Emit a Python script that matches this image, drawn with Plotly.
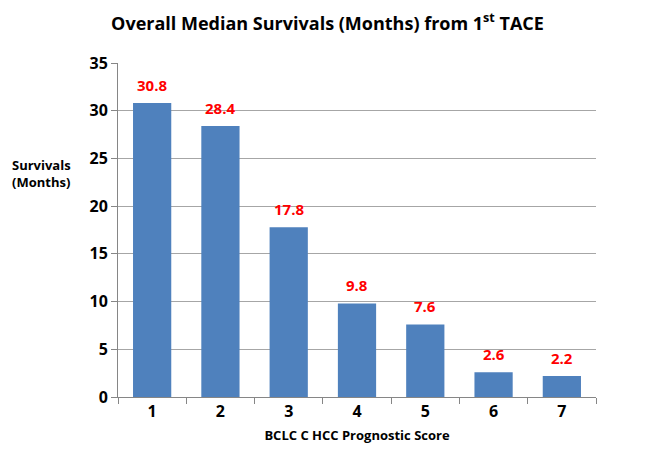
import plotly.graph_objects as go

categories = ["1", "2", "3", "4", "5", "6", "7"]
survivals = [30.8, 28.4, 17.8, 9.8, 7.6, 2.6, 2.2]
y_ticks = [0, 5, 10, 15, 20, 25, 30, 35]

FONT = "Open Sans, Liberation Sans, sans-serif"

fig = go.Figure(go.Bar(
    x=categories, y=survivals,
    marker=dict(color="#4F81BD", line=dict(width=0)),
    hoverinfo="x+y",
))

# value labels: category axis positions are the category indices
for i, v in enumerate(survivals):
    fig.add_annotation(
        x=i, y=v, text=f"{v:.1f}", showarrow=False,
        xanchor="center", yanchor="bottom", yshift=6,
        font=dict(color="#FF0000", size=15, family=FONT, weight="bold"),
    )

# page body has an 8px margin; figure is sized/offset to compensate
fig.update_layout(
    width=639, height=444,
    margin=dict(l=110, r=51, t=55, b=55, autoexpand=False),
    paper_bgcolor="white", plot_bgcolor="white",
    bargap=0.44,
    showlegend=False,
    title=dict(
        text="Overall Median Survivals (Months) from 1<sup>st</sup> TACE",
        x=0.5, xanchor="center", y=0.965, yanchor="middle",
        font=dict(size=18, family=FONT, color="black", weight="bold"),
    ),
    font=dict(family=FONT, color="black"),
)

fig.update_xaxes(
    type="category", automargin=False,
    range=[-0.5, len(categories) - 0.5],
    showline=True, linecolor="#868686", linewidth=1,
    ticks="outside", tickson="boundaries", ticklen=6, tickcolor="#868686",
    tickfont=dict(size=16, family=FONT, weight="bold"),
    title=dict(text="BCLC C HCC Prognostic Score", standoff=9,
               font=dict(size=13, family=FONT, weight="bold")),
    showgrid=False,
)
fig.update_yaxes(
    range=[0, 35], tickvals=y_ticks, automargin=False,
    showline=True, linecolor="#868686", linewidth=1,
    ticks="outside", ticklen=6, tickcolor="#868686",
    tickfont=dict(size=16, family=FONT, weight="bold"),
    showgrid=True, gridcolor="#A6A6A6", gridwidth=1,
    zeroline=False,
)

fig.add_annotation(
    text="Survivals<br>(Months)", xref="paper", yref="paper",
    x=-0.226, y=0.67, xanchor="left", yanchor="middle",
    showarrow=False, align="left",
    font=dict(size=13, family=FONT, weight="bold", color="black"),
)

fig.write_html("out.html")
